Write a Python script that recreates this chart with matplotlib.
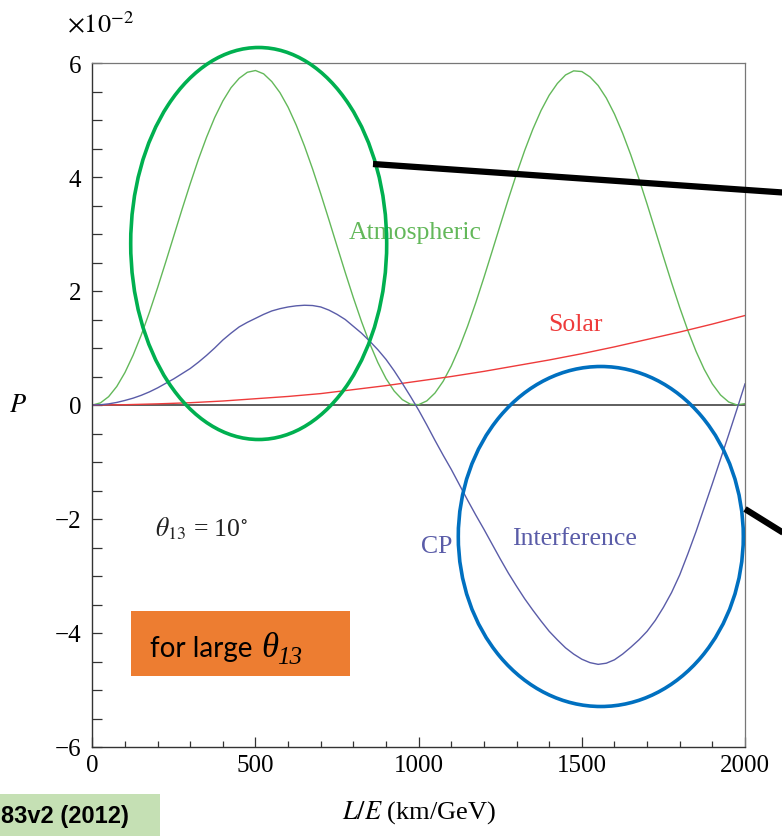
import numpy as np
import matplotlib
matplotlib.use("Agg")
import matplotlib.pyplot as plt
from matplotlib.patches import Ellipse, Rectangle

# L/E grids (km/GeV)
le_atm = np.arange(0, 2001, 25)
le_cp = np.arange(0, 2001, 25)
le_sol = np.arange(0, 2001, 100)

# values in units of 1e-2
p_atm = [0.000, 0.037, 0.146, 0.325, 0.569, 0.873, 1.228, 1.626, 2.057, 2.509,
         2.971, 3.433, 3.881, 4.307, 4.696, 5.043, 5.334, 5.566, 5.731, 5.837,
         5.868, 5.810, 5.674, 5.480, 5.224, 4.909, 4.545, 4.141, 3.705, 3.250,
         2.786, 2.326, 1.881, 1.463, 1.080, 0.745, 0.464, 0.245, 0.094, 0.013,
         0.006, 0.072, 0.210, 0.415, 0.684, 1.010, 1.383, 1.795, 2.236, 2.694,
         3.157, 3.615, 4.055, 4.467, 4.840, 5.166, 5.435, 5.641, 5.790, 5.862,
         5.850, 5.756, 5.605, 5.386, 5.105, 4.769, 4.388, 3.969, 3.524, 3.064,
         2.601, 2.146, 1.710, 1.305, 0.941, 0.626, 0.369, 0.176, 0.053, 0.001,
         0.024]
p_cp = [0.000, 0.005, 0.02, 0.045, 0.08, 0.12, 0.17, 0.23, 0.30, 0.38,
        0.46, 0.55, 0.64, 0.75, 0.87, 1.00, 1.14, 1.26, 1.37, 1.45,
        1.52, 1.59, 1.65, 1.69, 1.72, 1.74, 1.75, 1.745, 1.72, 1.665,
        1.59, 1.50, 1.38, 1.26, 1.12, 0.97, 0.80, 0.60, 0.38, 0.15,
        -0.09, -0.35, -0.62, -0.88, -1.13, -1.40, -1.67, -1.93, -2.18, -2.44,
        -2.70, -2.95, -3.18, -3.40, -3.60, -3.79, -3.97, -4.12, -4.26, -4.37,
        -4.46, -4.52, -4.55, -4.53, -4.47, -4.37, -4.25, -4.12, -3.97, -3.78,
        -3.55, -3.29, -2.98, -2.61, -2.22, -1.80, -1.38, -0.95, -0.52, -0.08,
        0.37]
p_sol = [0.0, 0.005, 0.02, 0.04, 0.07, 0.11, 0.15, 0.20, 0.27, 0.34,
         0.42, 0.50, 0.59, 0.69, 0.79, 0.90, 1.02, 1.15, 1.28, 1.42, 1.57]

c_atm = "#63b85a"
c_sol = "#ee3b3b"
c_cp = "#5a5ca8"

plt.rcParams["mathtext.fontset"] = "stix"
plt.rcParams["font.family"] = ["Liberation Serif", "DejaVu Serif"]

fig = plt.figure(figsize=(7.82, 8.37), dpi=100)
ax = fig.add_axes([92.3 / 782, 1 - 748 / 837, 652.7 / 782, 684 / 837])

ax.axhline(0, color="#333333", lw=1.1, zorder=1)
ax.plot(le_atm, p_atm, color=c_atm, lw=1.0, zorder=2)
ax.plot(le_sol, p_sol, color=c_sol, lw=1.0, zorder=2)
ax.plot(le_cp, p_cp, color=c_cp, lw=1.0, zorder=2)

ax.set_xlim(0, 2000)
ax.set_ylim(-6, 6)
ax.set_xticks([0, 500, 1000, 1500, 2000])
ax.set_xticks(np.arange(0, 2001, 100), minor=True)
ax.set_yticks([-6, -4, -2, 0, 2, 4, 6])
ax.set_yticklabels(["\u22126", "\u22124", "\u22122", "0", "2", "4", "6"])
ax.set_yticks(np.arange(-6, 6.01, 0.5), minor=True)
ax.tick_params(axis="both", which="both", direction="in", top=False, right=False,
               color="#333333", width=0.9, labelsize=18)
ax.tick_params(axis="x", which="major", length=7, pad=5)
ax.tick_params(axis="x", which="minor", length=4.5)
ax.tick_params(axis="y", which="both", length=7, pad=8)
for s in ["left", "bottom"]:
    ax.spines[s].set_color("#333333")
    ax.spines[s].set_linewidth(1.0)
for s in ["top", "right"]:
    ax.spines[s].set_color("#777777")
    ax.spines[s].set_linewidth(0.9)

ax.set_xlabel("$L/E$ (km/GeV)", fontsize=19)
ax.xaxis.set_label_coords(0.5, -0.075)
ax.set_ylabel("$P$", fontsize=19, rotation=0, va="center", ha="center")
ax.yaxis.set_label_coords(-0.114, 0.5)
ax.text(-0.039, 1.045, "$\\times10^{-2}$", transform=ax.transAxes, fontsize=19,
        ha="left", va="baseline")

ax.text(989, 3.03, "Atmospheric", color=c_atm, fontsize=18.5, ha="center", va="center")
ax.text(1482, 1.42, "Solar", color=c_sol, fontsize=18.5, ha="center", va="center")
ax.text(1056, -2.48, "CP", color=c_cp, fontsize=18.5, ha="center", va="center")
ax.text(1476, -2.34, "Interference", color=c_cp, fontsize=18.5, ha="center", va="center")
ax.text(333, -2.16, "$\\theta_{13}$ = 10$^{\\circ}$", color="#222222", fontsize=18.5,
        ha="center", va="center")

# slide overlay, pixel coordinates of the slide
ov = fig.add_axes([0, 0, 1, 1], facecolor="none")
ov.set_xlim(0, 782)
ov.set_ylim(837, 0)
ov.axis("off")
ov.add_patch(Ellipse((258.7, 244.5), 256, 392, fill=False, ec="#00b050", lw=2.6))
ov.add_patch(Ellipse((600.8, 537.5), 285, 340, fill=False, ec="#0070c0", lw=2.6))
ov.plot([373, 790], [165, 194], color="black", lw=4.5, solid_capstyle="butt")
ov.plot([745, 790], [510, 538], color="black", lw=4.5, solid_capstyle="butt")
ov.add_patch(Rectangle((131, 612), 219, 65, color="#ed7d31", lw=0))
ov.text(150, 657, "for large", family="Lato", fontsize=20, ha="left", va="baseline")
ov.text(261, 657, "\u03b8", family="Liberation Serif", style="italic", fontsize=25,
        ha="left", va="baseline")
ov.text(277, 664, "13", family="Liberation Serif", style="italic", fontsize=18,
        ha="left", va="baseline")
ov.add_patch(Rectangle((0, 795), 160, 42, color="#c5e0b4", lw=0))
ov.text(1, 817, "83v2 (2012)", family="Liberation Sans", weight="bold", fontsize=17,
        ha="left", va="center")

fig.savefig("out.png", dpi=100)
